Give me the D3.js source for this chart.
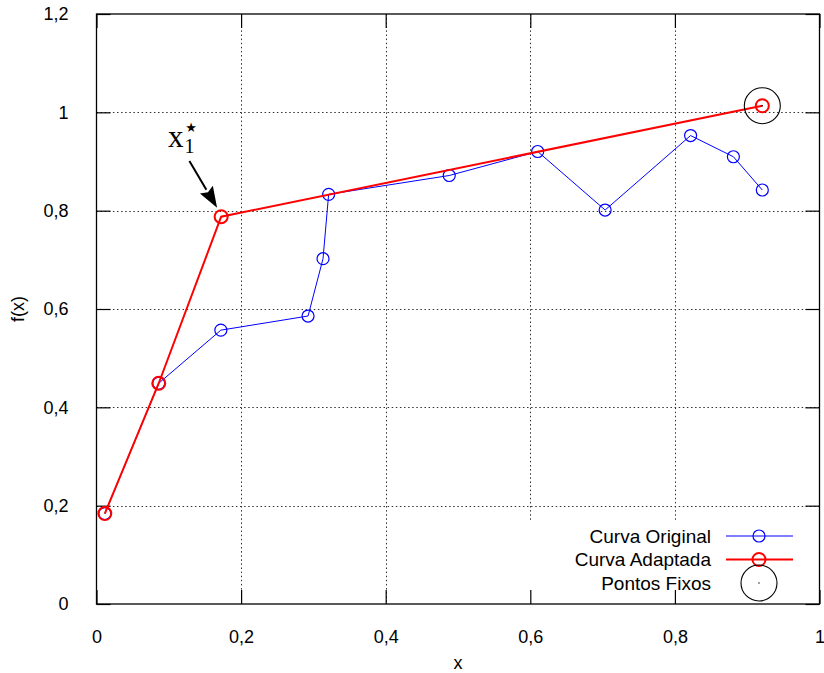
<!DOCTYPE html>
<html>
<head>
<meta charset="utf-8">
<script src="https://cdn.jsdelivr.net/npm/d3@7/dist/d3.min.js"></script>
<style>
  html, body { margin: 0; padding: 0; background: #fff; }
  svg { display: block; font-family: "Liberation Sans", Arial, Helvetica, sans-serif; }
</style>
</head>
<body>
<svg id="chart" width="824" height="673"></svg>
<script>
// Original curve samples
const originalX = [0.0115, 0.0861, 0.172, 0.2926, 0.3133, 0.3211, 0.4879, 0.6102, 0.7035, 0.8217, 0.8809, 0.9209];
const originalY = [0.184, 0.449, 0.557, 0.5857, 0.7023, 0.8332, 0.8715, 0.9203, 0.8013, 0.9528, 0.9097, 0.842];

// Adapted curve samples
const adaptedX = [0.0115, 0.0861, 0.1724, 0.9209];
const adaptedY = [0.184, 0.449, 0.7877, 1.0134];

// Fixed points
const fixedX = [0.9209];
const fixedY = [1.0134];

// Axis ticks
const xTicks = [0, 0.2, 0.4, 0.6, 0.8, 1];
const yTicks = [0, 0.2, 0.4, 0.6, 0.8, 1, 1.2];

// Annotation for x1* (arrow from label to point)
const arrowFrom = [0.1285, 0.901];
const arrowTo = [0.1668, 0.806];
const labelAt = [0.099, 0.929];

const legendItems = ["Curva Original", "Curva Adaptada", "Pontos Fixos"];

const fmt = v => d3.format("~g")(v).replace(".", ",");

const svg = d3.select("#chart");
const L = 96.5, R = 819.5, T = 14, B = 604;

const x = d3.scaleLinear().domain([0, 1]).range([L, R]);
const y = d3.scaleLinear().domain([0, 1.2]).range([B, T]);

// Grid (dotted)
const grid = svg.append("g").attr("stroke", "#000").attr("stroke-width", 1)
  .attr("stroke-dasharray", "1.5,2.6").attr("opacity", 0.8);
grid.selectAll("line.gx").data(xTicks.slice(1, -1)).join("line")
  .attr("x1", d => Math.round(x(d)) + 0.5).attr("x2", d => Math.round(x(d)) + 0.5)
  .attr("y1", T).attr("y2", B);
grid.selectAll("line.gy").data(yTicks.slice(1, -1)).join("line")
  .attr("y1", d => Math.round(y(d)) + 0.5).attr("y2", d => Math.round(y(d)) + 0.5)
  .attr("x1", L).attr("x2", R);

// Legend background hides the grid behind the key
svg.append("rect").attr("x", 526).attr("y", 522).attr("width", 290).attr("height", 80)
  .attr("fill", "#fff");

// Axes with inward ticks on all four sides
const tickLen = 14;
const axB = d3.axisBottom(x).tickValues(xTicks).tickFormat(fmt).tickSizeInner(-tickLen).tickSizeOuter(0).tickPadding(tickLen + 12);
const axT = d3.axisTop(x).tickValues(xTicks).tickFormat("").tickSizeInner(-tickLen).tickSizeOuter(0);
const axL = d3.axisLeft(y).tickValues(yTicks).tickFormat(fmt).tickSizeInner(-tickLen).tickSizeOuter(0).tickPadding(tickLen + 14);
const axR = d3.axisRight(y).tickValues(yTicks).tickFormat("").tickSizeInner(-tickLen).tickSizeOuter(0);

function styleAxis(g) {
  g.select(".domain").remove();
  g.selectAll("line").attr("stroke", "#000").attr("stroke-width", 1.2);
  g.selectAll("text").attr("font-size", 18).attr("fill", "#000")
    .attr("font-family", "'Liberation Sans', Arial, sans-serif");
}
svg.append("g").attr("transform", `translate(0,${B})`).call(axB).call(styleAxis);
svg.append("g").attr("transform", `translate(0,${T})`).call(axT).call(styleAxis);
svg.append("g").attr("transform", `translate(${L},0)`).call(axL).call(styleAxis);
svg.append("g").attr("transform", `translate(${R},0)`).call(axR).call(styleAxis);

// Border
svg.append("rect").attr("x", L).attr("y", T).attr("width", R - L).attr("height", B - T)
  .attr("fill", "none").attr("stroke", "#000").attr("stroke-width", 1.3);

// Axis titles
svg.append("text").attr("x", (L + R) / 2).attr("y", 669).attr("text-anchor", "middle")
  .attr("font-size", 18).text("x");
svg.append("text").attr("transform", `translate(24,${(T + B) / 2}) rotate(-90)`)
  .attr("text-anchor", "middle").attr("font-size", 18).text("f(x)");

// Series
const line = d3.line().x(d => x(d[0])).y(d => y(d[1]));
const orig = originalX.map((v, i) => [v, originalY[i]]);
const adap = adaptedX.map((v, i) => [v, adaptedY[i]]);
const fixed = fixedX.map((v, i) => [v, fixedY[i]]);

svg.append("path").datum(orig).attr("d", line).attr("fill", "none")
  .attr("stroke", "#0000ff").attr("stroke-width", 1);
svg.append("g").selectAll("circle").data(orig).join("circle")
  .attr("cx", d => x(d[0])).attr("cy", d => y(d[1])).attr("r", 6)
  .attr("fill", "none").attr("stroke", "#0000ff").attr("stroke-width", 1.2);

svg.append("path").datum(adap).attr("d", line).attr("fill", "none")
  .attr("stroke", "#ff0000").attr("stroke-width", 2);
svg.append("g").selectAll("circle").data(adap).join("circle")
  .attr("cx", d => x(d[0])).attr("cy", d => y(d[1])).attr("r", 6.5)
  .attr("fill", "none").attr("stroke", "#ff0000").attr("stroke-width", 2);

const fx = svg.append("g").selectAll("g").data(fixed).join("g");
fx.append("circle").attr("cx", d => x(d[0])).attr("cy", d => y(d[1])).attr("r", 18)
  .attr("fill", "none").attr("stroke", "#000").attr("stroke-width", 1.1);
fx.append("circle").attr("cx", d => x(d[0])).attr("cy", d => y(d[1])).attr("r", 0.7)
  .attr("fill", "#000");

// Arrow annotation: shaft plus a solid triangular head
const ax1 = x(arrowFrom[0]), ay1 = y(arrowFrom[1]);
const ax2 = x(arrowTo[0]), ay2 = y(arrowTo[1]);
const ang = Math.atan2(ay2 - ay1, ax2 - ax1);
const headLen = 21, headHalf = 7.5;
const bx = ax2 - headLen * Math.cos(ang), by = ay2 - headLen * Math.sin(ang);
svg.append("line").attr("x1", ax1).attr("y1", ay1).attr("x2", bx).attr("y2", by)
  .attr("stroke", "#000").attr("stroke-width", 2);
svg.append("path").attr("fill", "#000")
  .attr("d", d3.line()([
    [ax2, ay2],
    [bx + headHalf * Math.sin(ang), by - headHalf * Math.cos(ang)],
    [bx + 3 * Math.cos(ang), by + 3 * Math.sin(ang)],
    [bx - headHalf * Math.sin(ang), by + headHalf * Math.cos(ang)]
  ]) + "Z");

const serif = "'Liberation Serif', 'Times New Roman', 'DejaVu Serif', serif";
const lab = svg.append("text").attr("x", x(labelAt[0])).attr("y", y(labelAt[1]))
  .style("font-family", serif).style("font-size", "31px");
lab.append("tspan").text("x");
lab.append("tspan").style("font-size", "20px").attr("dy", 6).attr("dx", 1).text("1");
svg.append("text").attr("x", x(labelAt[0]) + 23).attr("y", y(labelAt[1]) - 15)
  .attr("text-anchor", "middle").style("font-family", "'DejaVu Sans', sans-serif")
  .style("font-size", "13px").text("\u2605");

// Legend
const legY = [536, 559.5, 583];
const lg = svg.append("g");
legendItems.forEach((name, i) => {
  lg.append("text").attr("x", 711).attr("y", legY[i]).attr("dy", "0.35em")
    .attr("text-anchor", "end").attr("font-size", 19).text(name);
});
lg.append("line").attr("x1", 726).attr("x2", 793).attr("y1", legY[0]).attr("y2", legY[0])
  .attr("stroke", "#0000ff").attr("stroke-width", 1);
lg.append("circle").attr("cx", 759).attr("cy", legY[0]).attr("r", 6)
  .attr("fill", "none").attr("stroke", "#0000ff").attr("stroke-width", 1.2);
lg.append("line").attr("x1", 726).attr("x2", 793).attr("y1", legY[1]).attr("y2", legY[1])
  .attr("stroke", "#ff0000").attr("stroke-width", 2);
lg.append("circle").attr("cx", 759).attr("cy", legY[1]).attr("r", 6.5)
  .attr("fill", "none").attr("stroke", "#ff0000").attr("stroke-width", 2);
lg.append("circle").attr("cx", 759).attr("cy", legY[2]).attr("r", 18)
  .attr("fill", "none").attr("stroke", "#000").attr("stroke-width", 1.1);
lg.append("circle").attr("cx", 759).attr("cy", legY[2]).attr("r", 0.7).attr("fill", "#000");
</script>
</body>
</html>
